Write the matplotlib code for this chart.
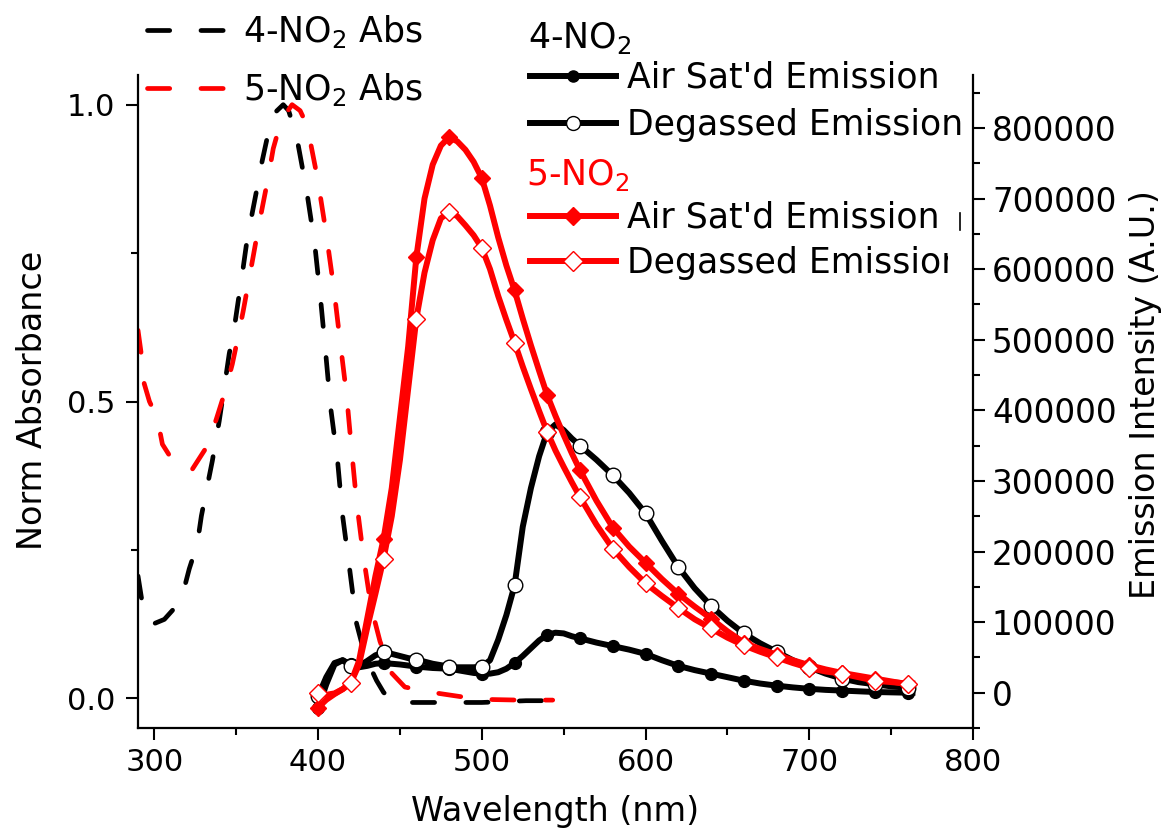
import matplotlib.pyplot as plt
from matplotlib.lines import Line2D
from matplotlib.patches import Rectangle
from matplotlib.ticker import MultipleLocator, StrMethodFormatter

plt.rcParams['font.family'] = ['DejaVu Sans']
plt.rcParams['mathtext.fontset'] = 'dejavusans'
plt.rcParams['lines.scale_dashes'] = False

# normalised absorbance, 4-NO2
abs4_wl = [290, 292.7, 296, 300, 306.1, 311, 316.5, 321.3, 326.2, 328.7, 331.7, 335.4,
           339.6, 343.3, 345.7, 348.8, 351.2, 353.7, 356.1, 359.1, 362.2, 365.2, 368.9,
           373.8, 378.7, 382, 386.9, 393.0, 397.9, 401.5, 404.6, 407.6, 411.9, 414.9,
           419.2, 423.5, 428.7, 435.7, 440, 445.1, 453, 470, 500, 527, 545]
abs4 = [0.206, 0.159, 0.132, 0.126, 0.133, 0.148, 0.167, 0.218, 0.260, 0.307, 0.349, 0.400,
        0.467, 0.535, 0.580, 0.624, 0.669, 0.715, 0.762, 0.808, 0.852, 0.897, 0.944,
        0.987, 1.0, 0.99, 0.946, 0.855, 0.766, 0.673, 0.583, 0.491, 0.400, 0.309,
        0.219, 0.126, 0.071, 0.030, 0.010, -0.003, -0.007, -0.007, -0.007, -0.004, -0.004]

# normalised absorbance, 5-NO2
abs5_wl = [290, 291.5, 292.7, 293.8, 297, 301.8, 304.9, 309, 314.6, 318.9, 323.2, 332.3,
           337.8, 343.3, 347.6, 351.2, 354.3, 357.3, 360.4, 363.4, 366.5, 369.5, 372.6,
           377.4, 384.1, 389, 393.3, 399.7, 404.9, 409.5, 413.4, 417.4, 420.4, 423.5,
           427.7, 432.3, 437.8, 445.1, 453, 469.5, 486.6, 504.9, 523.2, 543.3]
abs5 = [0.62, 0.59, 0.565, 0.53, 0.50, 0.472, 0.428, 0.41, 0.395, 0.383, 0.386, 0.425,
        0.470, 0.518, 0.563, 0.610, 0.653, 0.698, 0.745, 0.791, 0.835, 0.877, 0.926,
        0.973, 1.0, 0.99, 0.965, 0.875, 0.784, 0.693, 0.602, 0.511, 0.420, 0.331,
        0.239, 0.155, 0.096, 0.042, 0.019, 0.010, 0.003, -0.002, -0.003, -0.003]

# emission spectra (A.U.)
em_wl = [400, 405, 410, 415, 420, 425, 430, 435, 440, 445, 450, 455, 460, 465, 470, 475,
         480, 485, 490, 495, 500, 505, 510, 515, 520, 525, 530, 535, 540, 545, 550, 555,
         560, 570, 580, 590, 600, 610, 620, 630, 640, 650, 660, 670, 680, 690, 700, 710,
         720, 730, 740, 750, 760, 763]
em4_air = [-22000, 12000, 40000, 46000, 40000, 36000, 38000, 41000, 42000, 41000, 40000,
           38500, 37000, 36000, 35000, 34500, 34000, 32000, 30000, 28000, 27000, 27000,
           29000, 34000, 42000, 52000, 63000, 74000, 82000, 85000, 84000, 80000, 77000,
           71000, 66000, 61000, 55000, 46000, 38000, 32000, 27000, 22000, 17000, 13000,
           10000, 7500, 5500, 4000, 3000, 2000, 1000, 500, 0, 0]
em4_deg = [-5000, 22000, 42000, 46000, 38000, 38000, 45000, 53000, 57000, 55000, 52000,
           49000, 47000, 44000, 41000, 39000, 37000, 36000, 36000, 36000, 37000, 46000,
           75000, 110000, 152000, 235000, 290000, 335000, 370000, 380000, 372000, 360000,
           350000, 330000, 308000, 283000, 254000, 215000, 178000, 148000, 123000, 102000,
           84000, 70000, 58000, 46000, 36000, 27000, 20000, 15000, 12000, 9000, 7000, 6500]
em5_air = [-21000, -10000, -2000, 5000, 14000, 45000, 105000, 165000, 218000, 290000,
           390000, 490000, 617000, 700000, 748000, 775000, 787000, 781000, 769000, 752000,
           729000, 690000, 645000, 605000, 570000, 530000, 492000, 456000, 421000, 392000,
           365000, 339000, 315000, 272000, 234000, 207000, 184000, 161000, 140000, 122000,
           105000, 87000, 71000, 62000, 54000, 46000, 39000, 33000, 28000, 24000, 20000,
           16000, 12000, 11000]
em5_deg = [0, -3000, -1000, 5000, 14000, 40000, 92000, 140000, 190000, 250000, 330000,
           430000, 530000, 595000, 641000, 672000, 681000, 675000, 662000, 648000, 630000,
           600000, 562000, 528000, 496000, 462000, 430000, 399000, 369000, 343000, 320000,
           298000, 277000, 238000, 204000, 178000, 155000, 137000, 120000, 104000, 91000,
           78000, 67000, 58000, 50000, 42000, 35000, 30000, 27000, 22000, 17000, 15000,
           13000, 13000]

W, H = 1167, 831


def fx(x):
    return x / W


def fy(y):
    return 1 - y / H


fig = plt.figure(figsize=(W / 100, H / 100), dpi=100)
ax = fig.add_axes([fx(138), fy(728), 835 / W, 653 / H])
ax2 = ax.twinx()

lw_abs, lw_em = 3.4, 4.3
dash = (16.0, 22.5)
ax.plot(abs4_wl, abs4, color='black', lw=lw_abs, dashes=dash, dash_capstyle='round')
ax.plot(abs5_wl, abs5, color='red', lw=lw_abs, dashes=dash, dash_capstyle='round')

mark = [w % 20 == 0 for w in em_wl]
ax2.plot(em_wl, em4_air, color='black', lw=lw_em, marker='o', ms=8.5,
         mfc='black', mec='black', markevery=mark)
ax2.plot(em_wl, em4_deg, color='black', lw=lw_em, marker='o', ms=10.5,
         mfc='white', mec='black', mew=1, markevery=mark)
ax2.plot(em_wl, em5_air, color='red', lw=lw_em, marker='D', ms=8,
         mfc='red', mec='red', markevery=mark)
ax2.plot(em_wl, em5_deg, color='red', lw=lw_em, marker='D', ms=9.5,
         mfc='white', mec='red', mew=1, markevery=mark)

ax.set_xlim(290, 800)
ax.set_ylim(-0.05, 1.05)
ax2.set_ylim(-50000, 875000)

ax.xaxis.set_major_locator(MultipleLocator(100))
ax.xaxis.set_minor_locator(MultipleLocator(50))
ax.yaxis.set_major_locator(MultipleLocator(0.5))
ax.yaxis.set_minor_locator(MultipleLocator(0.25))
ax2.yaxis.set_major_locator(MultipleLocator(100000))
ax2.yaxis.set_minor_locator(MultipleLocator(50000))
ax2.yaxis.set_major_formatter(StrMethodFormatter('{x:.0f}'))

for a in (ax, ax2):
    a.tick_params(which='major', direction='out', length=8.6, width=1.5, labelsize=22)
    a.tick_params(which='minor', direction='out', length=5, width=1.5)
    for s in a.spines.values():
        s.set_linewidth(1.6)
ax.tick_params(axis='x', pad=6)
ax.tick_params(axis='y', pad=8)
ax2.tick_params(axis='y', pad=5, labelsize=23.5)

ax.spines['top'].set_visible(False)
ax.spines['right'].set_visible(False)
ax2.spines['top'].set_visible(False)
ax2.spines['left'].set_visible(False)
ax2.spines['bottom'].set_visible(False)

ax.set_xlabel('Wavelength (nm)', fontsize=24)
ax.xaxis.set_label_coords((555 - 138) / 835, (728 - 821) / 653)
ax.xaxis.label.set_va('baseline')
ax.set_ylabel('Norm Absorbance', fontsize=24)
ax.yaxis.set_label_coords((42 - 138) / 835, (728 - 400) / 653)
ax.yaxis.label.set_va('baseline')
ax2.set_ylabel('Emission Intensity (A.U.)', fontsize=24)
ax2.yaxis.set_label_coords((1155 - 138) / 835, (728 - 395) / 653)
ax2.yaxis.label.set_va('baseline')

# absorbance keys
for y, col, lab in [(30, 'black', '4-NO$_2$ Abs'), (88, 'red', '5-NO$_2$ Abs')]:
    fig.add_artist(Line2D([fx(147), fx(226)], [fy(y), fy(y)], color=col, lw=lw_abs,
                          dashes=dash, dash_capstyle='round'))
    fig.text(fx(243), fy(y + 12), lab, fontsize=25, va='baseline')

# emission keys
fig.text(fx(528), fy(48), '4-NO$_2$', fontsize=25, va='baseline', color='black')
fig.text(fx(526), fy(185), '5-NO$_2$', fontsize=25, va='baseline', color='red')
keys = [
    (76, 'black', dict(marker='o', ms=8, mfc='black', mec='black'), "Air Sat'd Emission"),
    (123, 'black', dict(marker='o', ms=10, mfc='white', mec='black', mew=1), 'Degassed Emission'),
    (216, 'red', dict(marker='D', ms=9.5, mfc='red', mec='red'), "Air Sat'd Emission"),
    (261, 'red', dict(marker='D', ms=10.5, mfc='white', mec='red', mew=1), 'Degassed Emission'),
]
for y, col, mk, lab in keys:
    fig.add_artist(Line2D([fx(530), fx(573), fx(616)], [fy(y)] * 3, color=col, lw=lw_em,
                          markevery=[1], **mk))
    fig.text(fx(627), fy(y + 12), lab, fontsize=25, va='baseline')

# edge of the 5-NO2 key box
fig.add_artist(Rectangle((fx(948), fy(290)), fx(968) - fx(948), fy(240) - fy(290),
                         facecolor='white', edgecolor='none', zorder=5))
fig.add_artist(Line2D([fx(960), fx(960)], [fy(213), fy(230)], color='black', lw=1.2))

fig.savefig('out.png', dpi=100)
